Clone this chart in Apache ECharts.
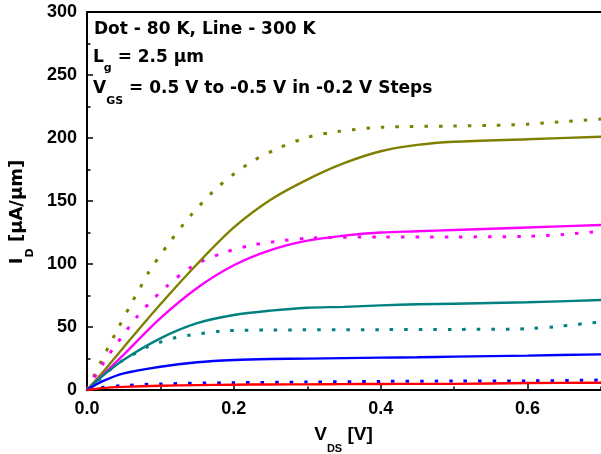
<!DOCTYPE html>
<html>
<head>
<meta charset="utf-8">
<script src="https://cdn.jsdelivr.net/npm/echarts@6/dist/echarts.min.js"></script>
<style>
html,body{margin:0;padding:0;background:#fff;}
#chart{width:601px;height:454px;}
</style>
</head>
<body>
<div id="chart"></div>
<script>
// ---- Data ----
// 300 K (solid lines)
const xSolid = [0, 0.02, 0.05, 0.1, 0.15, 0.2, 0.25, 0.3, 0.35, 0.4, 0.45, 0.5, 0.6, 0.7];
const oliveSolid   = [0, 13, 34, 68, 100, 129, 151, 167, 180, 189.5, 194.5, 197, 199, 201];
const magentaSolid = [0, 11, 28, 57, 81, 99, 111, 118.5, 122.5, 125, 126, 127, 129, 131];
const tealSolid    = [0, 10.6, 24, 41, 53, 59.5, 63, 65.3, 66, 67.2, 68, 68.5, 69.6, 71.4];
const blueSolid    = [0, 6.6, 13.2, 18.5, 22, 23.8, 24.6, 24.9, 25.3, 25.7, 26, 26.5, 27.3, 28.3];
const redSolid     = [0, 1.5, 2.5, 3.4, 3.9, 4.2, 4.4, 4.5, 4.7, 4.8, 4.9, 4.9, 5.5, 5.8];

// 80 K (dotted lines)
const xOliveDot = [0, 0.019, 0.04, 0.061, 0.072, 0.083, 0.111, 0.142, 0.18, 0.221, 0.261, 0.3, 0.34, 0.4, 0.5, 0.55, 0.6, 0.65, 0.7];
const oliveDot  = [0, 22.5, 46.3, 69.3, 80.7, 92.6, 116, 139, 162, 180, 192, 200.5, 205, 208.5, 209.5, 210, 211, 213, 215];
const xMagentaDot = [0, 0.025, 0.037, 0.068, 0.085, 0.106, 0.143, 0.184, 0.225, 0.266, 0.3, 0.4, 0.5, 0.6, 0.65, 0.7];
const magentaDot  = [0, 24, 34, 58, 69, 81, 98, 108.5, 115, 118.5, 120.5, 121.5, 121.5, 122, 123.5, 126];
const xTealDot = [0, 0.02, 0.041, 0.062, 0.081, 0.1, 0.12, 0.141, 0.183, 0.25, 0.4, 0.5, 0.58, 0.6, 0.64, 0.66, 0.68, 0.7];
const tealDot  = [0, 10, 20.6, 27.8, 33.9, 38, 41.5, 43.6, 46.8, 47.6, 47.9, 48.1, 48.2, 48.7, 50.3, 51.6, 52.9, 53.8];
const xBlueDot = [0, 0.02, 0.05, 0.1, 0.2, 0.3, 0.4, 0.5, 0.6, 0.7];
const blueDot  = [0, 2, 3.5, 4.8, 5.8, 6.3, 6.8, 7.1, 7.2, 7.9];

// Axis ticks
const xMajorTicks = [0, 0.2, 0.4, 0.6];
const yTicks = [0, 50, 100, 150, 200, 250, 300];

const C_OLIVE = '#808000', C_MAG = '#FF00FF', C_TEAL = '#008080', C_BLUE = '#0000FF', C_RED = '#FF0000';
const AR = 'Liberation Sans, Arial, sans-serif';
const DJ = 'DejaVu Sans, sans-serif';

function pairs(xs, ys){ return xs.map((x,i)=>[x, ys[i]]); }
function solid(name, xs, ys, color){
  return {name, type:'line', data:pairs(xs,ys), showSymbol:false, smooth:0.3,
    lineStyle:{color, width:2.4}, itemStyle:{color}, xAxisIndex:0, yAxisIndex:0, z:3};
}
function dotted(name, xs, ys, color){
  return {name, type:'line', data:pairs(xs,ys), showSymbol:false, smooth:0.3,
    lineStyle:{color, width:3, type:[3.5, 11], cap:'butt'}, itemStyle:{color}, xAxisIndex:0, yAxisIndex:0, z:2};
}

const chart = echarts.init(document.getElementById('chart'), null, {renderer:'canvas'});
const option = {
  animation:false,
  backgroundColor:'#fff',
  grid:{left:87, top:12, right:0, bottom:64, containLabel:false},
  xAxis:[
    {type:'value', position:'bottom', min:0, max:0.7, interval:0.2,
     axisLine:{show:true, onZero:false, lineStyle:{color:'#000', width:2}},
     axisTick:{show:true, inside:true, length:6, lineStyle:{color:'#000', width:1.5}},
     axisLabel:{show:true, margin:10, color:'#000', fontSize:18, fontWeight:'bold', fontFamily:AR,
       showMaxLabel:false,
       formatter:(v)=> xMajorTicks.some(t=>Math.abs(t-v)<1e-9) ? v.toFixed(1) : ''},
     splitLine:{show:false}},
    {type:'value', position:'bottom', min:0, max:0.7, interval:0.1,
     axisLine:{show:false},
     axisTick:{show:true, inside:true, length:3.5, lineStyle:{color:'#000', width:1.5}},
     axisLabel:{show:false}, splitLine:{show:false}},
    {type:'value', position:'top', min:0, max:0.7,
     axisLine:{show:true, onZero:false, lineStyle:{color:'#000', width:2}},
     axisTick:{show:false}, axisLabel:{show:false}, splitLine:{show:false}}
  ],
  yAxis:[
    {type:'value', min:0, max:300, interval:50,
     axisLine:{show:true, onZero:false, lineStyle:{color:'#000', width:2}},
     axisTick:{show:true, inside:true, length:6, lineStyle:{color:'#000', width:1.5}},
     minorTick:{show:true, splitNumber:2, length:3.5, lineStyle:{color:'#000', width:1.5}},
     axisLabel:{show:true, margin:10, color:'#000', fontSize:18, fontWeight:'bold', fontFamily:AR,
       formatter:(v)=> yTicks.includes(v) ? String(v) : ''},
     splitLine:{show:false}, minorSplitLine:{show:false}}
  ],
  series:[
    dotted('olive80', xOliveDot, oliveDot, C_OLIVE),
    dotted('magenta80', xMagentaDot, magentaDot, C_MAG),
    dotted('teal80', xTealDot, tealDot, C_TEAL),
    dotted('blue80', xBlueDot, blueDot, C_BLUE),
    solid('olive300', xSolid, oliveSolid, C_OLIVE),
    solid('magenta300', xSolid, magentaSolid, C_MAG),
    solid('teal300', xSolid, tealSolid, C_TEAL),
    solid('blue300', xSolid, blueSolid, C_BLUE),
    solid('red300', xSolid, redSolid, C_RED)
  ],
  graphic:[
    {type:'text', x:94, y:30, z:10,
     style:{text:'Dot - 80 K, Line - 300 K', fill:'#000', font:'bold 17px '+DJ,
       align:'left', verticalAlign:'middle', textAlign:'left', textVerticalAlign:'middle'}},
    {type:'text', x:93, y:58, z:10,
     style:{text:'{a|L}{s|g}{a| = 2.5 μm}', fill:'#000', align:'left', verticalAlign:'middle',
       textAlign:'left', textVerticalAlign:'middle',
       rich:{a:{fontSize:17, fontWeight:'bold', fontFamily:DJ, lineHeight:31, fill:'#000'},
             s:{fontSize:11, fontWeight:'bold', fontFamily:DJ, lineHeight:11, verticalAlign:'bottom', fill:'#000'}}}},
    {type:'text', x:93, y:89, z:10,
     style:{text:'{a|V}{s|GS}{a| = 0.5 V to -0.5 V in -0.2 V Steps}', fill:'#000', align:'left', verticalAlign:'middle',
       textAlign:'left', textVerticalAlign:'middle',
       rich:{a:{fontSize:17, fontWeight:'bold', fontFamily:DJ, lineHeight:35, fill:'#000'},
             s:{fontSize:11, fontWeight:'bold', fontFamily:DJ, lineHeight:11, verticalAlign:'bottom', fill:'#000'}}}},
    // x axis title
    {type:'text', x:343.5, y:435, z:10,
     style:{text:'{a|V}{s|DS}{a| [V]}', fill:'#000', align:'center', verticalAlign:'middle',
       textAlign:'center', textVerticalAlign:'middle',
       rich:{a:{fontSize:19, fontWeight:'bold', fontFamily:AR, lineHeight:38, fill:'#000'},
             s:{fontSize:11, fontWeight:'bold', fontFamily:AR, lineHeight:11, verticalAlign:'bottom', fill:'#000'}}}},
    // y axis title
    {type:'text', x:17, y:212, rotation:Math.PI/2, z:10,
     style:{text:'{a|I}{s|D}{a| [μA/μm]}', fill:'#000', align:'center', verticalAlign:'middle',
       textAlign:'center', textVerticalAlign:'middle',
       rich:{a:{fontSize:18, fontWeight:'bold', fontFamily:DJ, lineHeight:38, fill:'#000'},
             s:{fontSize:11, fontWeight:'bold', fontFamily:DJ, lineHeight:11, verticalAlign:'bottom', fill:'#000'}}}}
  ]
};
chart.setOption(option);
</script>
</body>
</html>
